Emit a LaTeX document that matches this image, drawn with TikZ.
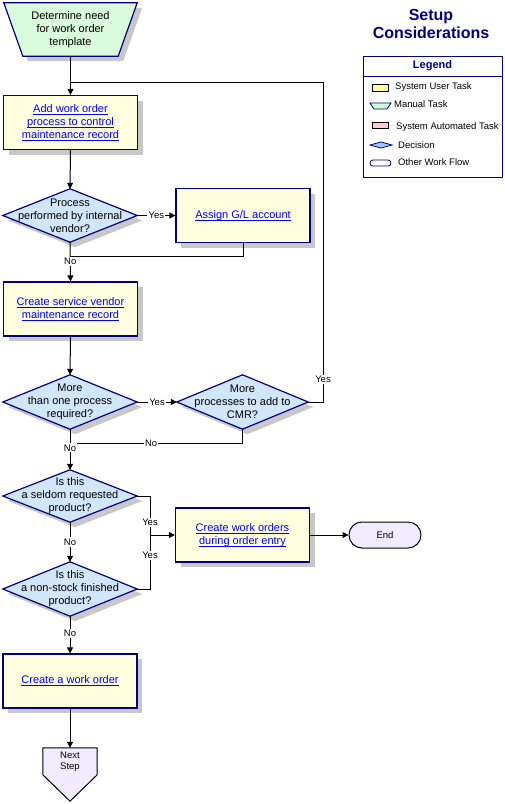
\documentclass[tikz,border=0pt]{standalone}
\usepackage{fontspec}
\setmainfont{Liberation Sans}
\usetikzlibrary{arrows.meta,backgrounds,calc,shadows}
\definecolor{navy}{HTML}{000080}
\definecolor{boxy}{HTML}{FFFFE0}
\definecolor{decb}{HTML}{D2E6FA}
\definecolor{mang}{HTML}{D9FADB}
\definecolor{endl}{HTML}{F2EAFE}
\definecolor{shad}{HTML}{C8C8C8}
\definecolor{linkb}{HTML}{0000FF}
\definecolor{legy}{HTML}{FFFF99}
\definecolor{legp}{HTML}{FFCCCC}
\definecolor{legd}{HTML}{99CCFF}
\definecolor{legg}{HTML}{CCFFCC}
\newcommand\lnk[1]{\setbox0\hbox{#1}\rlap{\rule[-2pt]{\wd0}{0.8pt}}\box0}
\tikzset{
  mainfont/.style={font=\fontsize{11}{13}\selectfont},
  smallfont/.style={font=\fontsize{9.5}{11}\selectfont},
  task/.style={draw=navy, line width=1.2pt, fill=boxy, align=center, mainfont, text=linkb,
    minimum width=134, minimum height=54, inner sep=0pt,
    drop shadow={shadow xshift=5pt, shadow yshift=-5pt, fill=shad, opacity=1}},
  holder/.style={align=center, mainfont, inner sep=0pt},
  shapeline/.style={draw=navy, line width=1.2pt},
  conn/.style={line width=1pt, draw=black},
  arr/.style={conn, -{Triangle[length=6pt,width=6pt]}},
  lbl/.style={fill=white, inner sep=1.2pt, smallfont},
  legtext/.style={anchor=west, smallfont, inner sep=0pt},
}
\begin{document}
\begin{tikzpicture}[x=1pt,y=-1pt]
\useasboundingbox (0,0) rectangle (505,804);

% title
\node[font=\fontsize{16}{18}\selectfont\bfseries, text=navy, align=center] (title) at (431,24) {Setup\\Considerations};

% legend
\node[draw=navy, line width=1pt, minimum width=139, minimum height=121, inner sep=0pt] (leg) at (432.5,116.5) {};
\draw[navy, line width=1pt] (leg.west |- 0,76) -- (leg.east |- 0,76);
\node[font=\fontsize{11}{13}\selectfont\bfseries, text=navy] (legt) at (432.5,66) {Legend};
\filldraw[fill=legy, draw=black, line width=0.8pt] (372,84) rectangle (388,91);
\node[legtext] (l1) at (395,87) {System User Task};
\filldraw[fill=legg, draw=navy, line width=0.8pt] (370,103) -- (391,103) -- (387,109) -- (374,109) -- cycle;
\node[legtext] (l2) at (394,104) {Manual Task};
\filldraw[fill=legp, draw=black, line width=0.8pt] (372,122) rectangle (388,128);
\node[legtext] (l3) at (396,127) {System Automated Task};
\filldraw[fill=legd, draw=navy, line width=0.8pt] (370,145) -- (381,142) -- (392,145) -- (381,148) -- cycle;
\node[legtext] (l4) at (398,145) {Decision};
\filldraw[fill=white, draw=navy, line width=0.8pt, rounded corners=3pt] (370,160) rectangle (391,166);
\node[legtext] (l5) at (398,162) {Other Work Flow};

% nodes
\node[holder, minimum width=133, minimum height=53] (t) at (70.5,29.5) {Determine need\\for work order\\template};
\node[task] (b1) at (70.5,122.5) {\lnk{Add work order}\\\lnk{process to control}\\\lnk{maintenance record}};
\node[holder, minimum width=134, minimum height=53] (d1) at (70,215.5) {Process\\performed by internal\\vendor?};
\node[task] (b2) at (243,215.5) {\lnk{Assign G/L account}};
\node[task] (b3) at (70.5,309) {\lnk{Create service vendor}\\\lnk{maintenance record}};
\node[holder, minimum width=134, minimum height=54] (d2) at (70,402) {More\\than one process\\required?};
\node[holder, minimum width=131, minimum height=54] (d3) at (242.5,402) {More\\processes to add to\\CMR?};
\node[holder, minimum width=134, minimum height=52] (d4) at (70,496) {Is this\\a seldom requested\\product?};
\node[holder, minimum width=134, minimum height=54] (d5) at (70,589) {Is this\\a non-stock finished\\product?};
\node[task] (b4) at (242.5,535) {\lnk{Create work orders}\\\lnk{during order entry}};
\node[draw=black, line width=1pt, fill=endl, rounded corners=13pt, minimum width=72, minimum height=26, smallfont] (end) at (385,535) {End};
\node[task] (b5) at (70,681) {\lnk{Create a work order}};
\node[minimum width=54, minimum height=53, inner sep=0pt] (ns) at (70,774.5) {};
\node[smallfont, align=center] (nst) at (70,762) {Next\\Step};

% shapes on background
\begin{pgfonlayer}{background}
  % trapezoid
  \fill[shad] ([shift={(5,5)}]t.north west) -- ([shift={(5,5)}]t.north east) -- ([shift={(-14,5)}]t.south east) -- ([shift={(24,5)}]t.south west) -- cycle;
  \filldraw[shapeline, fill=mang] (t.north west) -- (t.north east) -- ([xshift=-19pt]t.south east) -- ([xshift=19pt]t.south west) -- cycle;
  % diamonds
  \foreach \d in {d1,d2,d3,d4,d5}{
    \fill[shad] ([shift={(5,5)}]\d.north) -- ([shift={(5,5)}]\d.east) -- ([shift={(5,5)}]\d.south) -- ([shift={(5,5)}]\d.west) -- cycle;
    \filldraw[shapeline, fill=decb] (\d.north) -- (\d.east) -- (\d.south) -- (\d.west) -- cycle;
  }
  % next step
  \filldraw[draw=black, line width=1pt, fill=endl] (ns.north west) -- (ns.north east) -- ($(ns.north east)+(0,27)$) -- (ns.south) -- ($(ns.north west)+(0,27)$) -- cycle;
\end{pgfonlayer}

% coordinates
\coordinate (j1) at (70,82);
\coordinate (loopc) at (323,82);
\coordinate (j2) at (70,256);
\coordinate (j3) at (70,443);
\coordinate (j4) at (150,535);

% connectors
\draw[arr] (t.south) -- (b1.north);
\draw[conn] (d3.east) -| (loopc) node[lbl, pos=0.535] {Yes} -- (j1);
\draw[arr] (b1.south) -- (d1.north);
\draw[arr] (d1.east) -- (b2.west) node[lbl, midway] {Yes};
\draw[conn] (b2.south) |- (j2);
\draw[arr] (d1.south) -- (b3.north) node[lbl, pos=0.48] {No};
\draw[arr] (b3.south) -- (d2.north);
\draw[arr] (d2.east) -- (d3.west) node[lbl, midway] {Yes};
\draw[conn] (d3.south) |- (j3) node[lbl, pos=0.765] {No};
\draw[arr] (d2.south) -- (d4.north) node[lbl, pos=0.46] {No};
\draw[arr] (d4.south) -- (d5.north) node[lbl, pos=0.5] {No};
\draw[conn] (d4.east) -| (j4) node[lbl, pos=0.84] {Yes};
\draw[conn] (d5.east) -| (j4) node[lbl, pos=0.81] {Yes};
\draw[arr] (j4) -- (b4.west);
\draw[arr] (b4.east) -- (end.west);
\draw[arr] (d5.south) -- (b5.north) node[lbl, pos=0.47] {No};
\draw[arr] (b5.south) -- (ns.north);
\end{tikzpicture}
\end{document}
